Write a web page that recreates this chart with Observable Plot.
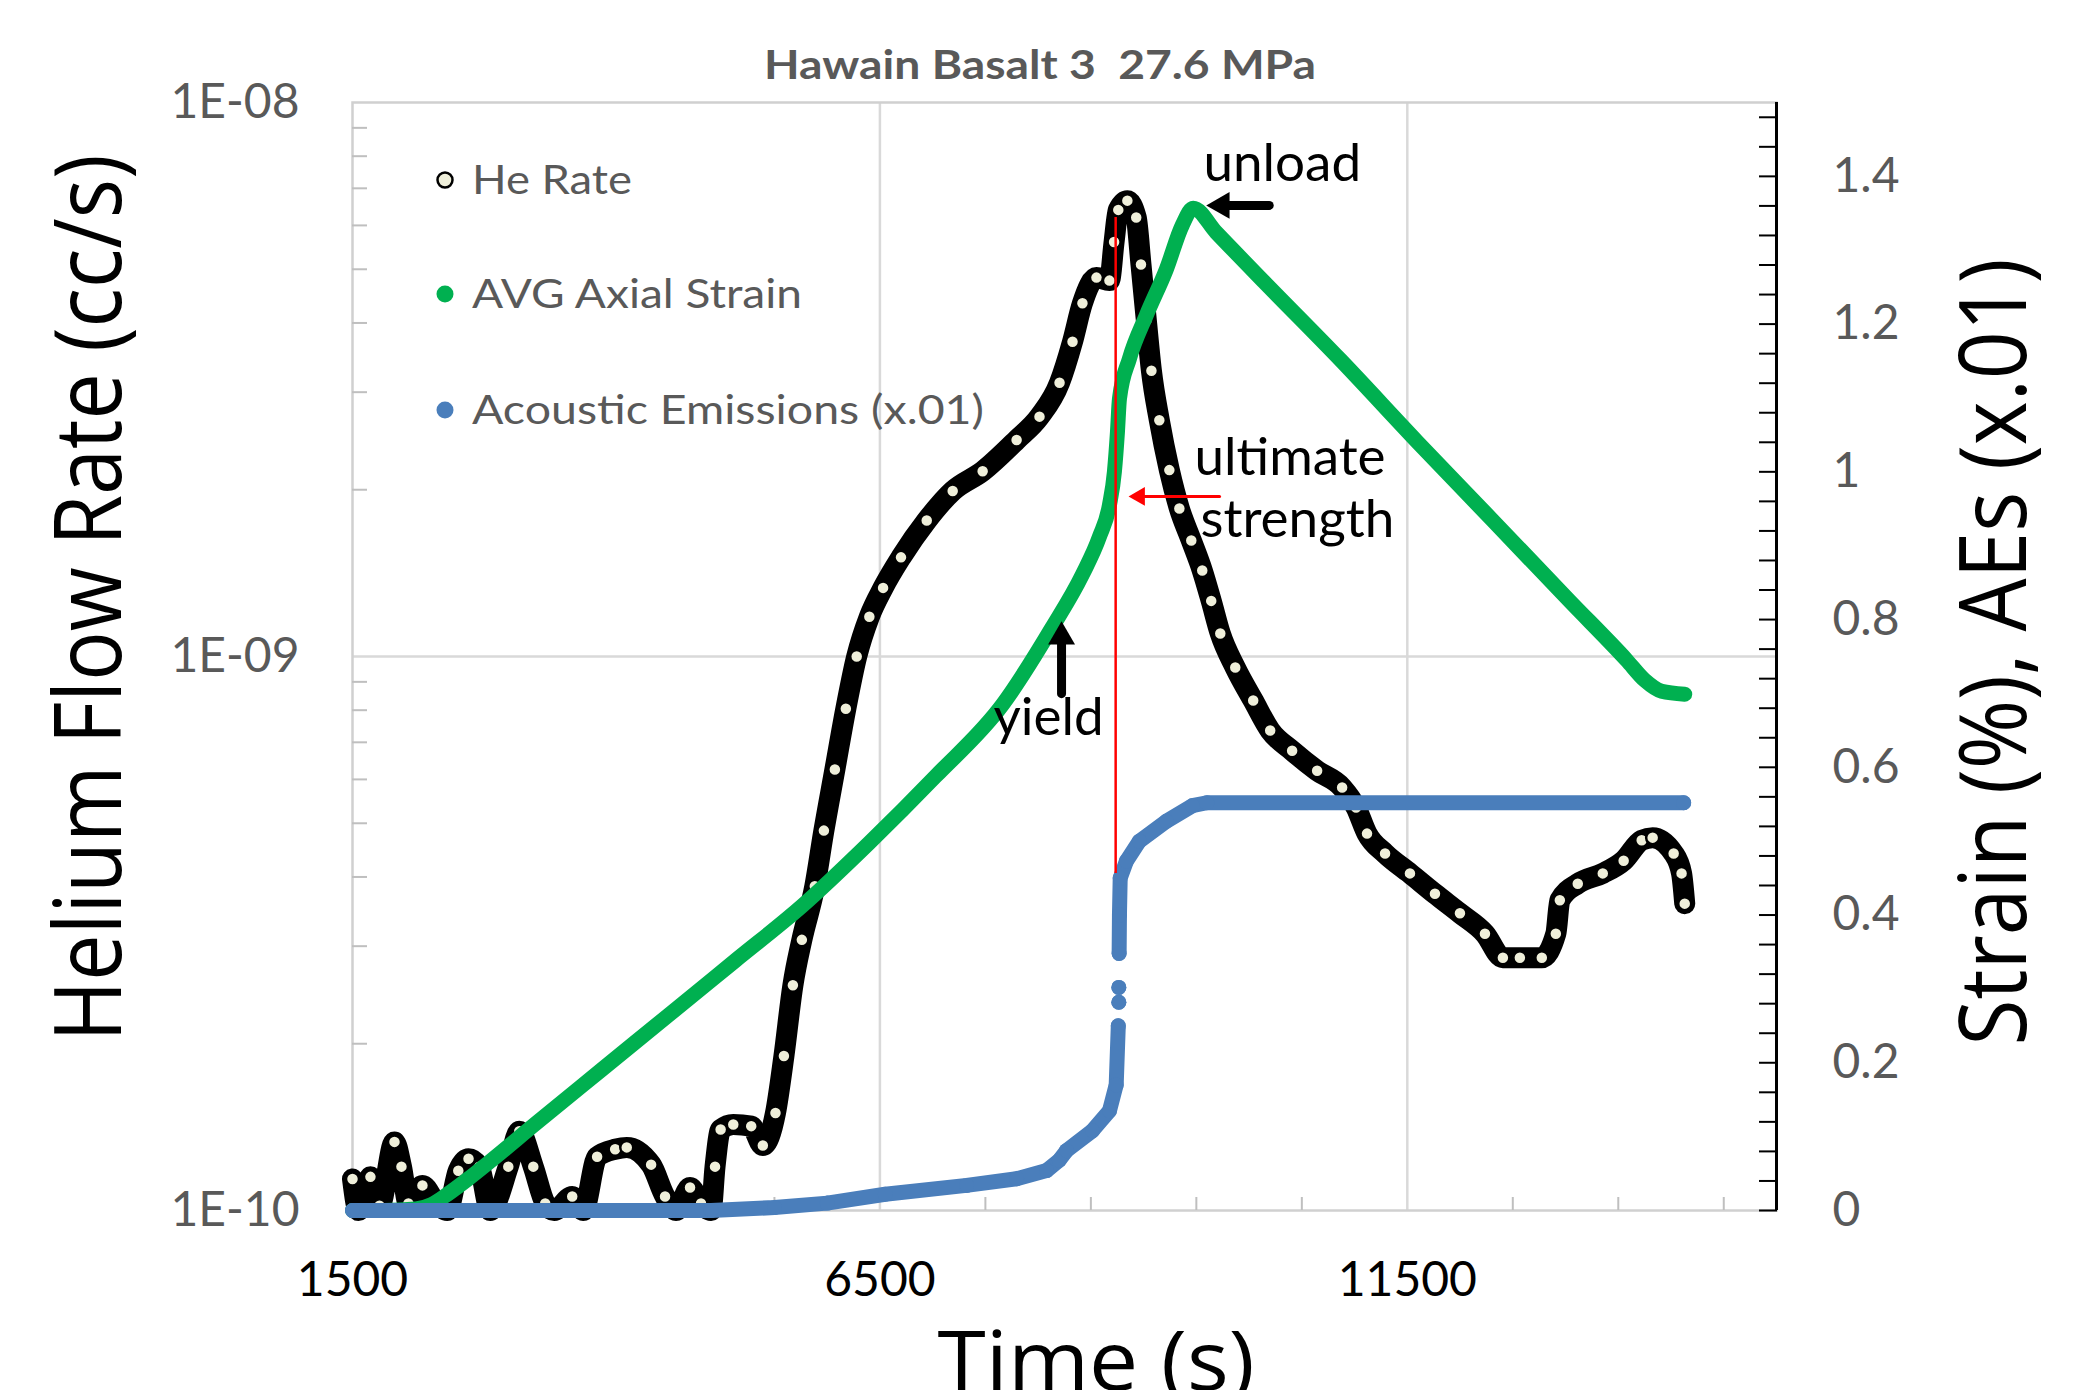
<!DOCTYPE html>
<html><head><meta charset="utf-8">
<script src="https://cdn.jsdelivr.net/npm/d3@7"></script>
<script src="https://cdn.jsdelivr.net/npm/@observablehq/plot@0.6"></script>
<style>html,body{margin:0;padding:0;background:#fff;}</style>
</head><body><div id="chart"></div>
<script>
// ---------- data ----------
const titleText = "Hawain Basalt 3  27.6 MPa";
const xTitle = "Time (s)";
const yLeftTitle = "Helium Flow Rate (cc/s)";
const yRightTitle = "Strain (%), AEs (x.01)";
const legendLabels = ["He Rate", "AVG Axial Strain", "Acoustic Emissions (x.01)"];

// He Rate: [time s, flow cc/s]
const heRate = [
 [1500,1.14e-10],[1557,1.00e-10],[1670,1.15e-10],[1756,1.02e-10],[1898,1.33e-10],[1964,1.20e-10],
 [2030,1.03e-10],[2163,1.11e-10],[2295,1.03e-10],[2399,1.00e-10],[2503,1.18e-10],[2600,1.24e-10],
 [2702,1.20e-10],[2806,1.00e-10],[2977,1.20e-10],[3081,1.39e-10],[3214,1.20e-10],[3327,1.03e-10],
 [3412,1.00e-10],[3583,1.06e-10],[3687,1.00e-10],[3819,1.25e-10],[3990,1.29e-10],[4100,1.30e-10],
 [4331,1.21e-10],[4463,1.06e-10],[4567,1.00e-10],[4700,1.10e-10],[4804,1.03e-10],[4899,1.00e-10],
 [4937,1.20e-10],[4990,1.40e-10],[5110,1.43e-10],[5280,1.42e-10],[5390,1.31e-10],[5510,1.50e-10],
 [5590,1.90e-10],[5675,2.55e-10],[5760,3.08e-10],[5883,3.85e-10],[5969,4.85e-10],[6073,6.25e-10],
 [6177,8.05e-10],[6280,1.00e-9],[6400,1.18e-9],[6530,1.33e-9],[6700,1.51e-9],[6944,1.76e-9],
 [7190,1.99e-9],[7474,2.16e-9],[7796,2.46e-9],[8013,2.71e-9],[8203,3.12e-9],[8326,3.70e-9],
 [8420,4.34e-9],[8553,4.83e-9],[8676,4.77e-9],[8720,5.60e-9],[8760,6.40e-9],[8846,6.65e-9],
 [8930,6.20e-9],[8975,5.10e-9],[9026,4.04e-9],[9074,3.28e-9],[9149,2.67e-9],[9244,2.17e-9],
 [9339,1.85e-9],[9452,1.62e-9],[9556,1.43e-9],[9641,1.26e-9],[9727,1.10e-9],[9869,9.55e-10],
 [10039,8.33e-10],[10200,7.35e-10],[10408,6.76e-10],[10645,6.22e-10],[10882,5.80e-10],[11014,5.34e-10],
 [11118,4.79e-10],[11289,4.41e-10],[11525,4.06e-10],[11762,3.73e-10],[11999,3.44e-10],[12236,3.16e-10],
 [12406,2.86e-10],[12567,2.86e-10],[12775,2.86e-10],[12908,3.16e-10],[12946,3.63e-10],[13116,3.89e-10],
 [13353,4.06e-10],[13551,4.28e-10],[13722,4.66e-10],[13826,4.71e-10],[14025,4.41e-10],[14100,4.06e-10],
 [14130,3.58e-10]
];

// AVG Axial Strain: [time s, strain %]
const axialStrain = [
 [1500,0],[1800,0],[2100,0.002],[2250,0.008],[2400,0.022],[2589,0.042],[2800,0.066],[3223,0.116],
 [3857,0.19],[4492,0.264],[5126,0.338],[5760,0.412],[6394,0.497],[7029,0.588],[7663,0.685],
 [8127,0.788],[8420,0.861],[8581,0.912],[8676,0.955],[8723,1.0],[8752,1.054],[8771,1.099],
 [8865,1.153],[9026,1.212],[9215,1.274],[9367,1.334],[9470,1.357],[9689,1.324],[10143,1.257],
 [10863,1.152],[11592,1.041],[12311,0.934],[13040,0.825],[13580,0.745],[13750,0.718],[13911,0.703],
 [14130,0.699]
];

// Acoustic Emissions (x.01): [time s, AEs, run]
const acousticEmissions = [
 [1500,0,0],[4900,0,0],[5500,0.004,0],[6000,0.01,0],[6550,0.022,0],[7322,0.034,0],[7796,0.043,0],
 [8080,0.054,0],[8200,0.068,0],[8269,0.081,0],[8515,0.108,0],[8676,0.135,0],[8740,0.17,0],[8760,0.25,0],
 [8765,0.282,1],
 [8765,0.302,2],
 [8768,0.348,3],[8771,0.40,3],[8778,0.45,3],[8837,0.473,3],[8960,0.5,3],[9216,0.527,3],[9462,0.548,3],
 [9600,0.552,3],[14120,0.552,3]
];

// annotations (time s, He-rate axis value)
const annotationTexts = [
 {text:"unload",   t:9567, v:7.73e-9},
 {text:"ultimate", t:9482, v:2.28e-9},
 {text:"strength", t:9539, v:1.76e-9},
 {text:"yield",    t:7577, v:7.73e-10}
];
const ultimateLine = [{t:8735, v1:4.06e-10, v2:6.2e-9}];
const arrowUnload = [{t1:10191, v1:6.52e-9, t2:9594, v2:6.52e-9}];
const arrowUltimate = [{t1:9720, v1:1.945e-9, t2:8857, v2:1.945e-9}];
const arrowYield = [{t1:8222, v1:8.57e-10, t2:8222, v2:1.158e-9}];

// axes
const xDomain = [1500, 15000];
const xMajorTicks = [1500, 6500, 11500];
const xGridTicks = [6500, 11500];
const xMinorTicks = [2500,3500,4500,5500,7500,8500,9500,10500,12500,13500,14500];
const leftDomain = [1e-10, 1e-8];
const leftTicks = [1e-10, 1e-9, 1e-8];
const leftTickLabels = ["1E-10", "1E-09", "1E-08"];
const leftMinorTicks = [2e-10,3e-10,4e-10,5e-10,6e-10,7e-10,8e-10,9e-10,2e-9,3e-9,4e-9,5e-9,6e-9,7e-9,8e-9,9e-9];
const rightDomain = [0, 1.5];
const rightTicks = [0, 0.2, 0.4, 0.6, 0.8, 1, 1.2, 1.4];
const rightMinorTicks = [0,0.04,0.08,0.12,0.16,0.2,0.24,0.28,0.32,0.36,0.4,0.44,0.48,0.52,0.56,0.6,0.64,0.68,0.72,0.76,0.8,0.84,0.88,0.92,0.96,1,1.04,1.08,1.12,1.16,1.2,1.24,1.28,1.32,1.36,1.4,1.44,1.48];

// ---------- dual-axis mapping: right linear axis onto the left log scale ----------
const decades = Math.log10(leftDomain[1] / leftDomain[0]);
const span = rightDomain[1] - rightDomain[0];
const toLeft = s => leftDomain[0] * Math.pow(10, decades * (s - rightDomain[0]) / span);

const he = heRate.map(([t, v]) => ({t, v}));
const strain = axialStrain.map(([t, s]) => ({t, y: toLeft(s)}));
const ae = acousticEmissions.map(([t, s, run]) => ({t, y: toLeft(s), run}));

const GREEN = "#00b050", BLUE = "#4a7ebb", CREAM = "#efefda", GRAY = "#595959", GRID = "#d9d9d9";

const plot = Plot.plot({
  width: 2085, height: 1390,
  marginLeft: 352, marginRight: 309, marginTop: 102, marginBottom: 180,
  style: {background: "white", fontFamily: "Lato, sans-serif"},
  x: {domain: xDomain, label: null},
  y: {type: "log", domain: leftDomain, label: null},
  marks: [
    Plot.gridX({ticks: xGridTicks, stroke: GRID, strokeOpacity: 1, strokeWidth: 2.5}),
    Plot.gridY({ticks: [1e-9], stroke: GRID, strokeOpacity: 1, strokeWidth: 2.5}),
    Plot.frame({stroke: "#d0d0d0", strokeWidth: 2.5}),
    Plot.axisX({ticks: xMinorTicks, tickSize: -13, stroke: "#bfbfbf", strokeWidth: 2, fill: null, label: null}),
    Plot.axisY({anchor: "left", ticks: leftMinorTicks, tickSize: -15, stroke: "#bfbfbf", strokeWidth: 2, fill: null, label: null}),
    // He rate
    Plot.line(he, {x: "t", y: "v", stroke: "black", strokeWidth: 21, curve: "monotone-x", strokeLinejoin: "round", strokeLinecap: "round"}),
    Plot.dot(he, {x: "t", y: "v", r: 6.5, fill: CREAM, stroke: "black", strokeWidth: 2.5}),
    // strain
    Plot.line(strain, {x: "t", y: "y", stroke: GREEN, strokeWidth: 15, curve: "monotone-x", strokeLinejoin: "round", strokeLinecap: "round"}),
    // AEs
    Plot.line(ae, {x: "t", y: "y", z: "run", stroke: BLUE, strokeWidth: 15, strokeLinejoin: "round", strokeLinecap: "round"}),
    Plot.dot(ae, {x: "t", y: "y", r: 7.5, fill: BLUE}),
    // right axis
    Plot.axisY({anchor: "right", ticks: rightMinorTicks.map(toLeft), tickSize: -18, stroke: "black", strokeWidth: 2, fill: null, label: null}),
    Plot.ruleX([xDomain[1]], {stroke: "black", strokeWidth: 3}),
    Plot.text(rightTicks, {y: d => toLeft(d), text: d => String(d), frameAnchor: "right", dx: 56, textAnchor: "start", lineAnchor: "middle", fontSize: 48, fill: GRAY}),
    Plot.text(leftTicks, {y: d => d, text: (d, i) => leftTickLabels[i], frameAnchor: "left", dx: -53, textAnchor: "end", lineAnchor: "middle", fontSize: 48, fill: GRAY}),
    Plot.axisX({ticks: xMajorTicks, tickSize: 0, tickPadding: 51, tickFormat: d => String(d), fontSize: 48, fill: "black", label: null}),
    // annotations
    Plot.ruleX(ultimateLine, {x: "t", y1: "v1", y2: "v2", stroke: "#ff0000", strokeWidth: 2.5}),
    Plot.arrow(arrowUltimate, {x1: "t1", y1: "v1", x2: "t2", y2: "v2", stroke: "#ff0000", strokeWidth: 3, headLength: 0, insetEnd: 10}),
    Plot.dot(arrowUltimate, {x: "t2", y: "v2", symbol: "triangle", r: 7, rotate: -90, dx: 10.9, fill: "#ff0000"}),
    Plot.arrow(arrowUnload, {x1: "t1", y1: "v1", x2: "t2", y2: "v2", stroke: "black", strokeWidth: 9, headLength: 0, insetEnd: 15}),
    Plot.dot(arrowUnload, {x: "t2", y: "v2", symbol: "triangle", r: 10, rotate: -90, dx: 15.5, fill: "black"}),
    Plot.arrow(arrowYield, {x1: "t1", y1: "v1", x2: "t2", y2: "v2", stroke: "black", strokeWidth: 9, headLength: 0, insetEnd: 15}),
    Plot.dot(arrowYield, {x: "t2", y: "v2", symbol: "triangle", r: 10, rotate: 0, dy: 15.5, fill: "black"}),
    Plot.text(annotationTexts, {x: "t", y: "v", text: "text", textAnchor: "start", lineAnchor: "middle", fontSize: 53, fill: "black", fontFamily: "Lato"})
  ]
});

document.getElementById("chart").appendChild(plot);
const svg = d3.select(plot);

// title
svg.append("text").attr("x", 1040).attr("y", 79).attr("text-anchor", "middle")
  .attr("textLength", 552).attr("lengthAdjust", "spacingAndGlyphs")
  .style("font-family", "Lato").style("font-weight", "700").style("font-size", "41px")
  .style("white-space", "pre").attr("fill", GRAY).text(titleText);

// axis titles
const titleFont = "'Open Sans', sans-serif";
svg.append("text").attr("transform", "translate(121,598) scale(1.13,1) rotate(-90)")
  .attr("text-anchor", "middle").attr("textLength", 887).attr("lengthAdjust", "spacingAndGlyphs")
  .style("font-family", titleFont).style("font-size", "83px").attr("fill", "black").text(yLeftTitle);
svg.append("text").attr("transform", "translate(2026,652) scale(1.13,1) rotate(-90)")
  .attr("text-anchor", "middle").attr("textLength", 787).attr("lengthAdjust", "spacingAndGlyphs")
  .style("font-family", titleFont).style("font-size", "83px").attr("fill", "black").text(yRightTitle);
svg.append("text").attr("x", 1096).attr("y", 1390).attr("text-anchor", "middle")
  .attr("textLength", 317).attr("lengthAdjust", "spacingAndGlyphs")
  .style("font-family", titleFont).style("font-size", "83px").attr("fill", "black").text(xTitle);

// legend
const legendRows = [
  {label: legendLabels[0], y: 180, fill: CREAM, stroke: "black", w: 160},
  {label: legendLabels[1], y: 294, fill: GREEN, stroke: "none", w: 330},
  {label: legendLabels[2], y: 410, fill: BLUE, stroke: "none", w: 512}
];
const lg = svg.append("g");
legendRows.forEach(r => {
  lg.append("circle").attr("cx", 445).attr("cy", r.y).attr("r", r.stroke === "none" ? 8.5 : 7.5)
    .attr("fill", r.fill).attr("stroke", r.stroke).attr("stroke-width", 2.5);
  lg.append("text").attr("x", 472).attr("y", r.y).attr("dy", "0.36em").attr("text-anchor", "start")
    .attr("textLength", r.w).attr("lengthAdjust", "spacingAndGlyphs")
    .style("font-family", "Lato").style("font-size", "40px").attr("fill", GRAY).text(r.label);
});
</script>
</body></html>
